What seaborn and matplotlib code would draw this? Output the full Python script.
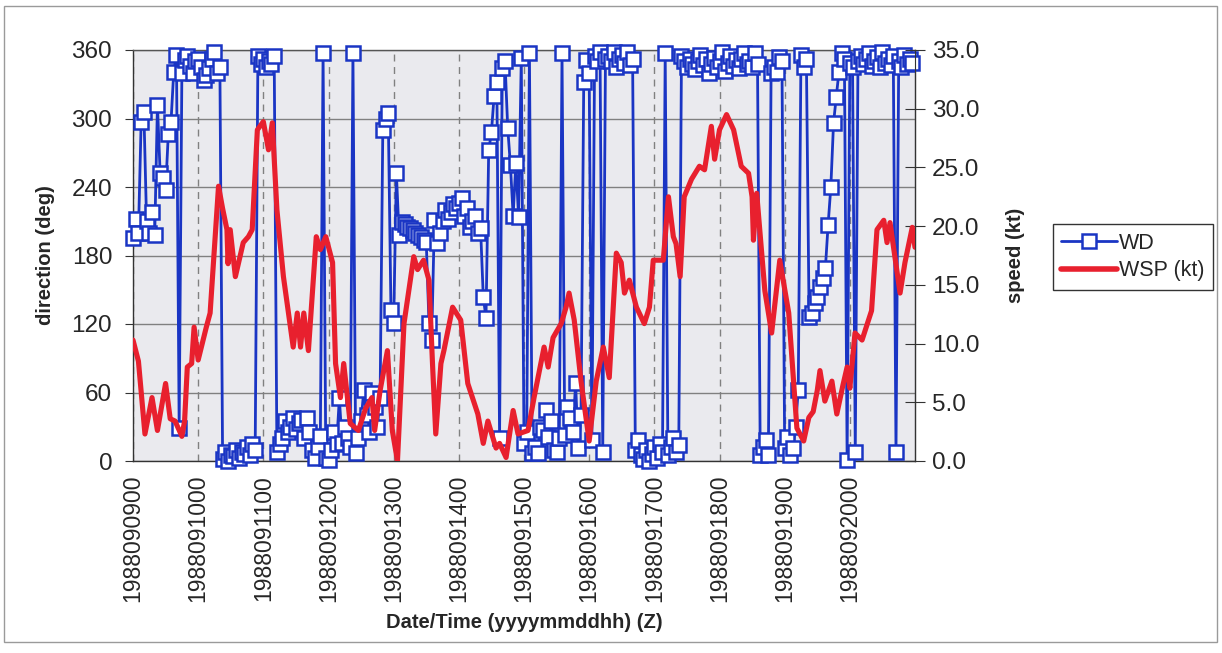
import matplotlib
matplotlib.use("Agg")
import matplotlib.pyplot as plt
from matplotlib.lines import Line2D
from matplotlib.patches import Rectangle
from matplotlib.ticker import FormatStrFormatter
import numpy as np
import pandas as pd
import seaborn as sns

# ---------------- data ----------------
xtick_labels = ["1988090900", "1988091000", "1988091100", "1988091200",
                "1988091300", "1988091400", "1988091500", "1988091600",
                "1988091700", "1988091800", "1988091900", "1988092000"]

# hourly wind direction (deg), hour index 0 = 1988090900
wd_deg = [
    195, 212, 200, 297, 306, 210, 200, 218, 198, 312, 252, 248, 237, 286, 297, 341, 356, 29, 340, 351, 355, 346, 340, 350,
    352, 345, 334, 338, 344, 352, 358, 340, 345, 2, 8, 0, 5, 4, 10, 3, 8, 6, 12, 5, 15, 10, 355, 348,
    352, 345, 350, 348, 355, 8, 15, 20, 35, 25, 30, 38, 28, 33, 36, 20, 38, 25, 10, 3, 12, 22, 357, 3,
    1, 10, 25, 15, 55, 16, 30, 20, 12, 357, 7, 20, 35, 62, 40, 25, 60, 47, 30, 55, 290, 300, 305, 132,
    121, 252, 198, 209, 208, 205, 204, 202, 200, 198, 196, 194, 192, 121, 106, 211, 191, 200, 210, 220, 212, 218, 225, 222,
    226, 230, 215, 222, 205, 210, 215, 200, 204, 144, 125, 272, 288, 320, 332, 20, 344, 350, 292, 259, 215, 261, 214, 353,
    16, 25, 357, 7, 12, 7, 30, 27, 45, 21, 35, 10, 8, 20, 357, 23, 47, 38, 25, 68, 11, 40, 332, 351,
    340, 18, 355, 350, 358, 8, 352, 355, 350, 358, 345, 352, 356, 349, 358, 347, 352, 10, 18, 5, 2, 10, 0, 6,
    12, 3, 15, 8, 357, 5, 12, 20, 8, 14, 355, 350, 345, 352, 348, 343, 350, 356, 347, 352, 340, 348, 353, 345,
    350, 358, 342, 349, 355, 346, 351, 344, 352, 357, 348, 350, 345, 357, 348, 5, 12, 18, 5, 340, 345, 341, 354, 350,
    11, 21, 5, 11, 30, 62, 356, 345, 352, 126, 130, 138, 144, 152, 160, 169, 207, 240, 296, 319, 341, 357, 352, 1,
    349, 345, 8, 350, 355, 348, 352, 357, 346, 350, 354, 345, 358, 349, 352, 347, 355, 8, 350, 345, 356, 348, 352, 349,
]
wd_hours = list(range(len(wd_deg)))

# wind speed (kt) traced vertices
wsp_hours = [0, 2, 4.4, 7, 9, 12, 13.7, 15.5, 18, 19,
             20, 21.6, 22.5, 24, 27, 28.4, 31.5, 33, 34.6, 35,
             35.8, 37.7, 40.6, 42.5, 43.9, 45.8, 48, 49.9, 51.3, 53,
             55.4, 59, 60.5, 61.7, 62.9, 64.6, 67.5, 69, 71, 73.5,
             74.6, 76.4, 77.6, 80, 83, 85.7, 88, 89, 91, 93.7,
             95.5, 97.4, 99.8, 103.4, 104.8, 107, 109, 110.3, 111.5, 113.4,
             114.5, 117.7, 120.7, 123.3, 127, 129, 130.7, 133.7, 135, 137.4,
             140, 141.8, 145.5, 147.7, 151.4, 152.9, 154.7, 157.7, 159.5, 160.6,
             162.5, 165, 168, 170.6, 173.2, 175.4, 178, 179.8, 181, 182.8,
             185.4, 188.3, 190.2, 191.6, 195.3, 197.2, 199, 200, 201.5, 203,
             205.7, 208.6, 210.5, 213, 214.2, 216, 218.6, 221.2, 224, 226.7,
             228, 228.5, 229.7, 232.7, 235.2, 238.2, 241.5, 244.5, 247, 248.9,
             250.5, 252, 253, 254.8, 257.4, 259.2, 261.5, 263, 264, 265.9,
             268.5, 272, 274, 276.5, 277.7, 278.8, 282.5, 284.3, 287, 288]
wsp_kt = [10.3, 8.5, 2.3, 5.4, 2.6, 6.6, 3.6, 3.4, 2.1, 3.4,
          8.0, 8.3, 11.4, 8.6, 11.4, 12.6, 23.4, 21.5, 19.7, 16.8,
          19.7, 15.7, 18.6, 19.1, 19.7, 28.2, 28.9, 26.5, 28.8, 21.4,
          15.7, 9.7, 12.6, 9.7, 12.6, 9.4, 19.1, 18.0, 19.1, 16.9,
          8.3, 5.4, 8.3, 3.2, 2.6, 4.5, 5.4, 2.6, 6.0, 9.4,
          2.6, 0.0, 11.7, 17.4, 16.3, 17.1, 15.4, 8.3, 2.3, 8.3,
          9.4, 13.1, 12.0, 6.6, 4.0, 1.5, 3.4, 1.1, 1.5, 0.3,
          4.3, 2.3, 2.6, 5.4, 9.7, 8.0, 10.5, 11.7, 13.1, 14.3,
          12.0, 6.8, 1.7, 6.8, 9.7, 7.1, 17.7, 16.9, 14.3, 15.4,
          13.1, 11.7, 13.1, 17.1, 17.1, 22.5, 19.1, 18.5, 15.7, 22.5,
          24.0, 25.1, 24.8, 28.5, 25.7, 28.2, 29.5, 28.2, 25.1, 24.5,
          22.5, 18.8, 22.8, 14.5, 10.9, 17.1, 12.6, 2.8, 1.7, 3.7,
          4.2, 6.0, 7.7, 5.1, 6.8, 4.0, 6.5, 8.0, 6.2, 10.9,
          10.3, 12.8, 19.7, 20.5, 18.6, 20.3, 14.3, 16.9, 19.9, 18.2]

# ---------------- style ----------------
sns.set_style("white")
plt.rcParams["font.family"] = ["Liberation Sans", "DejaVu Sans"]

BLUE = "#1a35c4"
RED = "#e8202e"
GRID = "#808080"

W, H = 1222, 653
fig = plt.figure(figsize=(W / 100, H / 100), dpi=100)
L, R, T, B = 133, 915, 50, 461
ax = fig.add_axes([L / W, 1 - B / H, (R - L) / W, (B - T) / H])
ax.set_facecolor("#eaeaee")

df_wd = pd.DataFrame({"hour": wd_hours, "WD": wd_deg})
df_ws = pd.DataFrame({"hour": wsp_hours, "WSP": wsp_kt})

sns.lineplot(data=df_wd, x="hour", y="WD", ax=ax, color=BLUE, lw=2.0,
             marker="s", markersize=9.5, markerfacecolor="white",
             markeredgecolor=BLUE, markeredgewidth=1.8,
             estimator=None, sort=False, legend=False, clip_on=False, zorder=3)

ax.set_xlim(0, 288)
ax.set_ylim(0, 360)
ax.set_yticks(range(0, 361, 60))
ax.set_xticks(range(0, 288, 24))
ax.set_xticklabels(xtick_labels, rotation=90)
ax.tick_params(axis="y", direction="out", length=6, labelsize=17.5, pad=9, color="#333")
ax.tick_params(axis="x", direction="out", length=6, labelsize=16.5, pad=4, color="#333")
ax.yaxis.grid(True, color=GRID, lw=1.0, ls="-")
ax.xaxis.grid(True, color=GRID, lw=1.0, ls=(0, (5, 4)))
ax.set_axisbelow(True)
for s in ax.spines.values():
    s.set_color("#555555")
    s.set_linewidth(1.0)
ax.spines["left"].set_color("#333333")
ax.spines["bottom"].set_color("#333333")

ax.set_xlabel("Date/Time (yyyymmddhh) (Z)", fontsize=14.5, fontweight="bold")
ax.set_ylabel("direction (deg)", fontsize=14.5, fontweight="bold")
ax.xaxis.set_label_coords(0.5, -0.37)
ax.yaxis.set_label_coords(-0.10, 0.5)

ax2 = ax.twinx()
sns.lineplot(data=df_ws, x="hour", y="WSP", ax=ax2, color=RED, lw=3.7,
             estimator=None, sort=False, legend=False, zorder=4)
ax2.set_xlim(0, 288)
ax2.set_ylim(0, 35)
ax2.set_yticks(np.arange(0, 35.1, 5))
ax2.yaxis.set_major_formatter(FormatStrFormatter("%.1f"))
ax2.tick_params(axis="y", direction="inout", length=14, labelsize=17.5, pad=5, color="#333")
ax2.set_ylabel("speed (kt)", fontsize=14.5, fontweight="bold")
ax2.yaxis.set_label_coords(1.117, 0.5)
for k, s in ax2.spines.items():
    s.set_visible(k == "right")
ax2.spines["right"].set_color("#333333")
ax2.set_xlabel("")

handles = [Line2D([], [], color=BLUE, lw=2.0, marker="s", markersize=9.5,
                  markerfacecolor="white", markeredgecolor=BLUE, markeredgewidth=1.8),
           Line2D([], [], color=RED, lw=4.0)]
leg = fig.legend(handles, ["WD", "WSP (kt)"], loc="center",
                 bbox_to_anchor=(1133 / W, 1 - 257 / H), fontsize=15.5,
                 frameon=True, fancybox=False, edgecolor="#333333",
                 framealpha=1, handlelength=2.6, handletextpad=0.1,
                 borderpad=0.4, labelspacing=0.3, borderaxespad=0)
leg.get_frame().set_linewidth(1.0)

fig.patches.append(Rectangle((4 / W, 1 - 642 / H), 1213 / W, 636 / H,
                             transform=fig.transFigure, fill=False,
                             edgecolor="#9a9a9a", lw=1.0))

fig.savefig("out.png", dpi=100, facecolor="white")
